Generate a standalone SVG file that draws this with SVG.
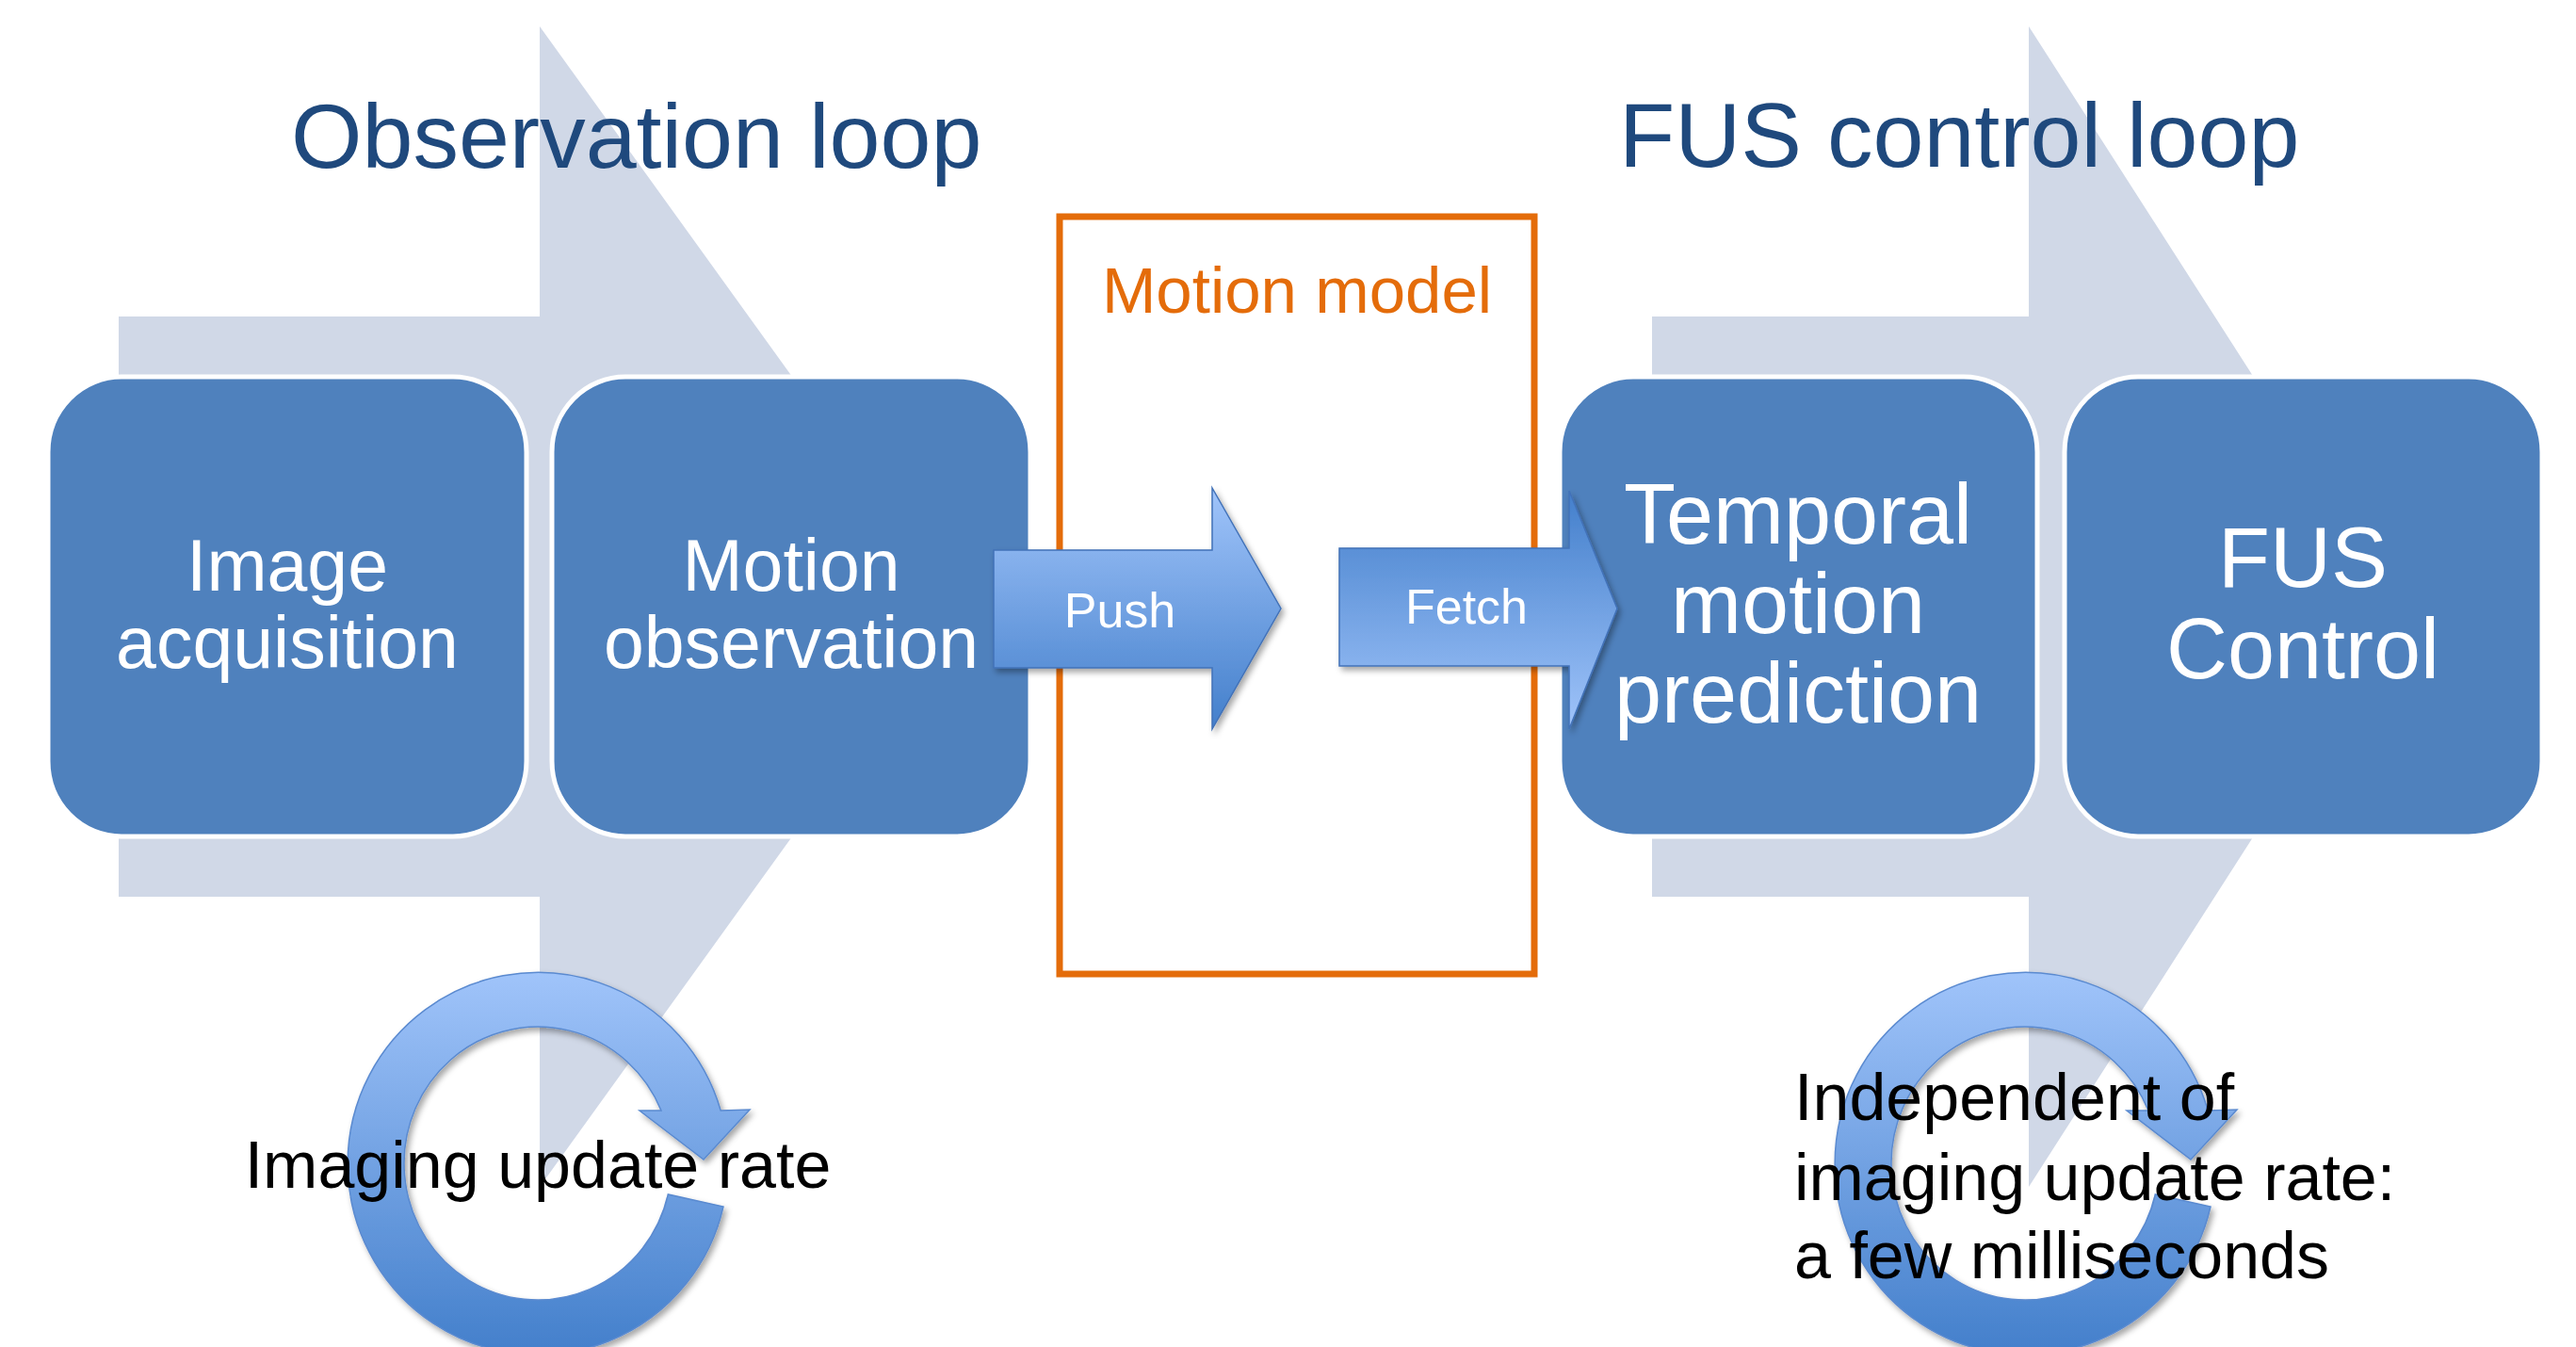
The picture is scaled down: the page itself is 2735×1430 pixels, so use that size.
<svg xmlns="http://www.w3.org/2000/svg" width="2735" height="1430" viewBox="0 0 2735 1430">
  <style>
    .band { fill: #D0D8E7; }
    .box { fill: #4F81BD; stroke: #FFFFFF; stroke-width: 5; }
    .boxtext { font-family: "Liberation Sans", Arial, sans-serif; fill: #FFFFFF; text-anchor: middle; }
    .title { font-family: "Liberation Sans", Arial, sans-serif; font-size: 97px; fill: #1F497D; }
    .note { font-family: "Liberation Sans", Arial, sans-serif; font-size: 70px; fill: #000000; }
    .arrowtext { font-family: "Liberation Sans", Arial, sans-serif; font-size: 52px; fill: #FFFFFF; text-anchor: middle; }
    .flow { stroke: #4272B8; stroke-width: 1.5; }
  </style>
  <defs>
    <linearGradient id="gradDown" x1="0" y1="0" x2="0" y2="1">
      <stop offset="0" stop-color="#A0C4FA"/>
      <stop offset="1" stop-color="#437FCB"/>
    </linearGradient>
    <linearGradient id="gradUp" x1="0" y1="0" x2="0" y2="1">
      <stop offset="0" stop-color="#437FCB"/>
      <stop offset="1" stop-color="#A0C4FA"/>
    </linearGradient>
    <filter id="shadow" x="-10%" y="-10%" width="130%" height="130%">
      <feDropShadow dx="3" dy="4" stdDeviation="3" flood-color="#000000" flood-opacity="0.35"/>
    </filter>
    <!-- clockwise loop arrow, centred on the origin -->
    <path id="loop" d="M197,46 A202,203 0 1 1 194.2,-56 L225,-57 L176,-4 L108,-56 L131,-56 A142,145 0 1 0 138.3,33 Z" fill="url(#gradDown)" stroke="#5A8AD0" stroke-width="1.5"/>
  </defs>

  <rect width="2735" height="1430" fill="#FFFFFF"/>

  <!-- background process chevrons -->
  <g id="band-observation">
    <polygon class="band" points="126,336 573,336 573,28 1017,644 573,1260 573,952 126,952"/>
  </g>
  <g id="band-control">
    <polygon class="band" points="1754,336 2154,336 2154,28 2549,644 2154,1260 2154,952 1754,952"/>
  </g>

  <!-- loop titles -->
  <text class="title" x="309" y="178">Observation loop</text>
  <text class="title" x="1719" y="177">FUS control loop</text>

  <!-- process steps -->
  <g id="image-acquisition">
    <rect class="box" x="51" y="400" width="508" height="488" rx="78" ry="80"/>
    <text class="boxtext" font-size="77" x="305" y="627">Image</text>
    <text class="boxtext" font-size="77" x="305" y="709">acquisition</text>
  </g>
  <g id="motion-observation">
    <rect class="box" x="586" y="400" width="508" height="488" rx="78" ry="80"/>
    <text class="boxtext" font-size="77" x="840" y="627">Motion</text>
    <text class="boxtext" font-size="77" x="840" y="709">observation</text>
  </g>
  <g id="temporal-prediction">
    <rect class="box" x="1656" y="400" width="507" height="488" rx="78" ry="80"/>
    <text class="boxtext" font-size="90" x="1909" y="577">Temporal</text>
    <text class="boxtext" font-size="90" x="1909" y="672">motion</text>
    <text class="boxtext" font-size="90" x="1909" y="767">prediction</text>
  </g>
  <g id="fus-control">
    <rect class="box" x="2192" y="400" width="507" height="488" rx="78" ry="80"/>
    <text class="boxtext" font-size="90" x="2445" y="623">FUS</text>
    <text class="boxtext" font-size="90" x="2445" y="720">Control</text>
  </g>

  <!-- shared motion model -->
  <g id="motion-model">
    <rect x="1125" y="230" width="504" height="804" fill="none" stroke="#E46C0A" stroke-width="7"/>
    <text x="1377" y="332" font-family="Liberation Sans, Arial, sans-serif" font-size="69" fill="#E46C0A" text-anchor="middle">Motion model</text>
  </g>

  <!-- data flow arrows -->
  <g id="connectors">
    <g id="push" filter="url(#shadow)">
      <polygon class="flow" fill="url(#gradDown)" points="1055,584 1287,584 1287,518 1360,646 1287,774 1287,709 1055,709"/>
    </g>
    <text class="arrowtext" x="1189" y="666">Push</text>
    <g id="fetch" filter="url(#shadow)">
      <polygon class="flow" fill="url(#gradUp)" points="1422,582 1666,582 1666,521 1717,646 1666,774 1666,707 1422,707"/>
    </g>
    <text class="arrowtext" x="1557" y="662">Fetch</text>
  </g>

  <!-- update-rate loops -->
  <g id="loop-imaging">
    <use href="#loop" transform="translate(571,1235)" filter="url(#shadow)"/>
    <text class="note" x="571" y="1261" text-anchor="middle">Imaging update rate</text>
  </g>
  <g id="loop-control">
    <use href="#loop" transform="translate(2150,1235)" filter="url(#shadow)"/>
    <text class="note" x="1905" y="1189">Independent of</text>
    <text class="note" x="1905" y="1274">imaging update rate:</text>
    <text class="note" x="1905" y="1357">a few milliseconds</text>
  </g>
</svg>
